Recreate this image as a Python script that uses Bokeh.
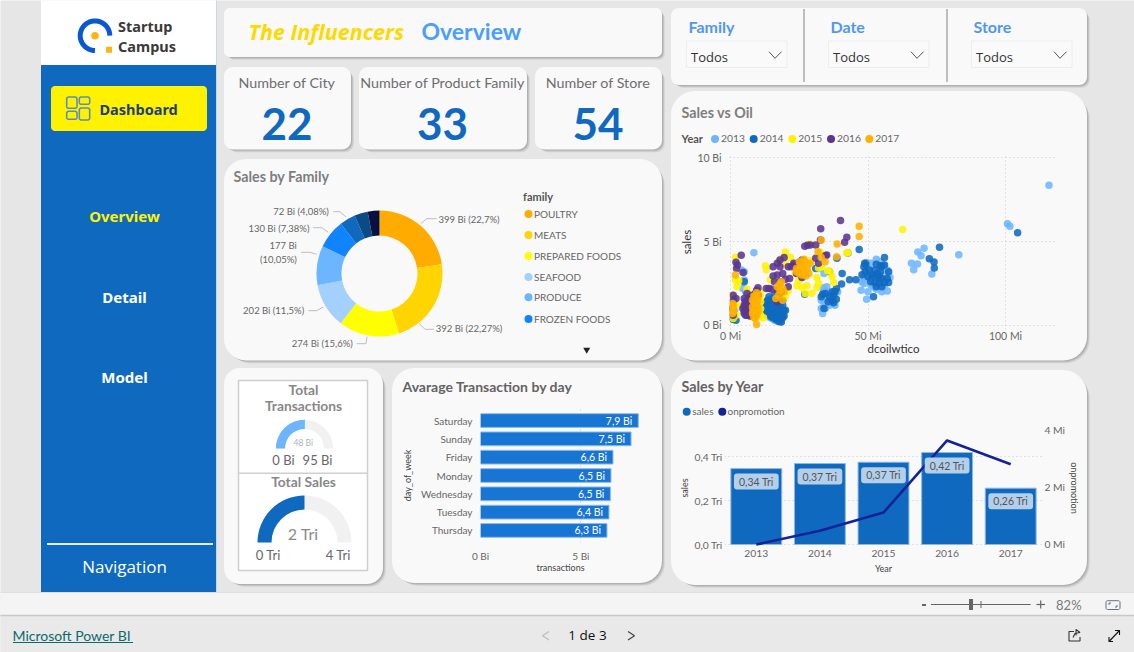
import math
from bokeh.embed import file_html
from bokeh.resources import INLINE
from bokeh.plotting import figure
from bokeh.models import Range1d, FactorRange, FixedTicker, LinearAxis
from bokeh.core.properties import value

# ---------- data ----------
kpi_titles = ["Number of City", "Number of Product Family", "Number of Store"]
kpi_values = ["22", "33", "54"]
slicer_titles = ["Family", "Date", "Store"]
family_names = ["POULTRY", "MEATS", "PREPARED FOODS", "SEAFOOD", "PRODUCE", "FROZEN FOODS", "DAIRY", "DELI", "OTHER"]
family_sales = [399, 392, 274, 202, 177, 130, 72, 60, 53]
family_colors = ["#FFAB00", "#FFD400", "#FFFF00", "#A3D0FF", "#6CB6FF", "#1084FF", "#0F69BF", "#0A4A85", "#07103F"]
days = ["Saturday", "Sunday", "Friday", "Monday", "Wednesday", "Tuesday", "Thursday"]
day_transactions = [7.86, 7.5, 6.6, 6.5, 6.47, 6.4, 6.3]
day_labels = ["7,9 Bi", "7,5 Bi", "6,6 Bi", "6,5 Bi", "6,5 Bi", "6,4 Bi", "6,3 Bi"]
years = ["2013", "2014", "2015", "2016", "2017"]
year_sales = [0.345, 0.368, 0.374, 0.418, 0.256]
year_sales_labels = ["0,34 Tri", "0,37 Tri", "0,37 Tri", "0,42 Tri", "0,26 Tri"]
year_promo = [0.0, 0.475, 1.11, 3.62, 2.79]
gauge_trans = (48, 95)
gauge_sales = (2, 4)

oil_2013 = [(115.8,8.36),(100.7,6.06),(101.6,5.92),(83,4.22),(70.4,4.6),(68.1,4.38),(69.3,4.16),(65.8,3.7),(68,3.66),(66.6,3.32),(73.2,3.06),(8.5,4.34),
 (47.5,2.1),(49.5,1.55),(50,2.0),(51,2.4),(48.5,2.5),(47.8,2.6),(50,2.8),(52,2.3),(53,2.15),(55,2.0),(57,2.05),(56,2.4),(58,2.85),(57,3.3),(55.5,3.6),(53,3.95),(51,3.7),(50,3.4),(49,3.2),(52,3.0),(54,2.7),(56,3.0),(54.5,3.8),(49.5,3.75),(48.5,2.9),
 (33.5,0.7),(33,1.0),(34,1.3),(33,1.5),(35,1.7),(34,2.0),(33.5,2.25),(35,2.0),(37,1.4),(38,1.2),(37.5,1.9),(36,1.6),(38.5,2.0),(39,2.0),(34.5,1.0),(36,1.2),(35,2.3),
 (0.5,0.5),(1,0.4),(1.5,0.9),(4,3.3),(5,3.2),(5,2.7),(4.5,2.2),(5.5,2.0),(5.2,1.4),(6,1.2),(7,0.9),(12,1.2),(12.5,0.8),(13,0.6),(14,0.5),(15,0.4),(16,0.3),(17,0.25),(18,0.2),(13,1.4),(14.5,1.5),(16,1.4),(18,1.3),(32,3.4),(34,3.1)]
oil_2014 = [(104.4,5.52),(76,4.66),(72.3,3.98),(74,3.78),(74.1,3.42),(46.8,4.52),(42.7,4.32),(38.7,4.0),(40.6,3.1),(40.4,2.46),(43.3,2.72),(45.6,2.72),(47.8,3.02),(52,1.7),
 (48.8,3.7),(49.2,3.65),(49,3.2),(50.5,3.3),(51.5,3.0),(50,2.9),(52.5,3.3),(53.5,3.1),(54.5,3.2),(55,3.5),(53,3.65),(54.5,3.55),(56,3.6),(56,4.05),(57.5,3.2),(57,2.8),(55,2.8),(54,2.5),(52.5,2.55),(51,2.6),(53,2.3),(55,2.3),(56,2.55),(57.5,2.55),(54,2.9),(52.5,2.9),(48.5,3.5),
 (33,1.7),(33.5,1.85),(34.5,1.9),(34,1.0),(35.5,1.4),(36,1.7),(37,1.5),(37.5,1.8),(37,2.0),(38,2.0),(38.5,2.2),(37.5,1.35),(38.5,1.55),(27,1.85),(31,3.4),(36,3.2),
 (13,1.0),(13,1.3),(13,0.8),(14,1.5),(14,1.2),(14,0.9),(14,0.65),(15,1.55),(15,1.25),(15,0.95),(15,0.7),(15,0.5),(16,1.6),(16,1.3),(16,1.0),(16,0.8),(16,0.6),(16,0.45),(17,1.5),(17,1.25),(17,1.0),(17,0.75),(17,0.55),(17,0.35),(18,1.5),(18,1.2),(18,0.95),(18,0.7),(18,0.5),(18,0.3),(19,1.2),(19,0.9),(19,0.65),(19,0.45),(12.5,1.1),(12.7,1.35),(13.5,1.5),(19.5,0.85),
 (12,1.0),(13.5,0.7),(14.5,0.55),(15.5,0.45),(16.5,0.35),(17.5,0.25),(18.5,0.2),(19.5,0.55),(20,0.9),(14,1.7),(16,1.8),(18,1.7),(19,1.5),
 (5,1.1),(5,0.7),(2,0.3),(1,0.35),(0.7,1.0),(6,0.6),(5,2.6)]
oil_2015 = [(62.6,5.72),(42.8,4.35),(20,4.38),(21.8,4.06),(28.8,4.86),(32.6,4.36),(12.7,3.56),(13,3.32),(1.8,4.06),(3,2.66),(1.8,2.7),(2.4,2.32),(6,2.16),(6.6,1.86),(14.5,2.72),(21,2.06),(20,1.76),(24.2,2.36),(26,2.26),(27.8,2.36),(27.2,1.9),(29.6,1.92),(31.4,2.26),(32,2.5),(31.4,2.86),(32,3.42),(35.3,3.26),(36.9,2.92),(37.5,2.56),(42.3,4.32),(26.6,3.66),(29,3.86),(23.6,3.16),(24.8,2.66),(20,3.66),(18.1,3.96),(36,3.25),(33,3.5),
 (1,0.4),(0.8,1.8),(2,0.6),(2.5,1.2),(8,0.5),(9,0.4),(10,0.5),(11,0.6),(11,1.0),(11,1.4),(11,1.8),(7,0.7),(7,1.2),(10.5,1.6),(10.5,2.0),(12,0.45)]
oil_2016 = [(40,6.26),(32.8,5.76),(42.3,5.26),(41.5,4.96),(32.7,5.1),(31,4.8),(29,4.8),(27,4.72),(28,4.78),(3.9,4.18),(2,3.76),(2.5,3.6),(2.2,3.4),(4.6,3.16),(35,4.2),(34.5,4.15),(18,3.9),(17,3.7),(19.5,4.05),(15.5,3.5),(18,3.5),(21,3.5),(23,3.7),(25,3.75),(26,3.9),(31,4.0),(32,3.7),(24,3.1),(23,3.6),(26,2.85),(20,2.75),(21.5,2.8),(15.5,2.95),(17,3.0),(19,3.1),(16,2.6),(18,2.6),(14,2.2),(13,2.2),(10,2.25),(9.5,2.1),(10,1.8),(15,2.15),(17,2.1),(21,2.3),(22,3.5),(24.5,3.2),
 (1,1.8),(1,1.5),(0.8,1.0),(1,0.6),(2,1.6),(5,1.2),(5.5,0.9),(6,0.7),(7,0.55),(5.5,1.4),(6.5,1.6),(8,1.8),(9,1.9),(7,1.3),(8,0.6),(8,1.1),(17,1.4),(18.5,2.0),
 (5,1.6),(6,1.2),(5,0.8),(6.5,1.0),(7.5,0.8),(4.5,1.0),(5.5,0.6),(7,1.7),(6,1.9)]
oil_2017 = [(46.8,5.92),(46.8,5.3),(33,5.1),(38.8,4.86),(31.8,4.4),(33,4.05),(38.6,4.1),(34.4,3.8),(26.7,3.95),(1.8,3.0),(9.5,0.05),
 (24,3.4),(25,3.1),(26,3.0),(27,3.2),(28,3.4),(29,3.7),(27,3.8),(25.5,3.6),(26.5,3.4),(28.5,3.1),(25,3.8),(24,3.2),(27.5,2.95),(26,3.7),
 (17,2.3),(18,2.1),(18.5,2.6),(19,2.2),(17.5,1.8),(16.5,1.6),(19,1.5),(18,2.5),(19.5,2.0),
 (8,0.7),(8.5,0.9),(9,1.1),(9.5,1.3),(10,1.5),(8,1.1),(8.5,1.4),(9,1.7),(9.5,1.95),(10,0.8),(10,1.1),(8.5,0.5),(9,0.4),(9.5,0.6),(8,1.5),(9,0.7),(10,1.8),(8.5,1.75),(9.5,0.85),(8.2,0.9),
 (0.8,0.7),(0.8,0.9),(0.8,1.1),(0.8,1.3),(1,0.8),(1,1.0),(1,1.2)]
oil_series = [oil_2013, oil_2014, oil_2015, oil_2016, oil_2017]
oil_colors = ["#6DB5FF", "#0F6ABF", "#FFF200", "#5B3591", "#FFB000"]

# ---------- helpers ----------
DIN = "Lato"
SEG = "Open Sans"
BLUE = "#0F6ABF"

bg = figure(width=1134, height=652, x_range=Range1d(0.5, 1134.5), y_range=Range1d(652.5, 0.5),
            x_axis_location=None, y_axis_location=None, toolbar_location=None,
            output_backend="svg", min_border=0, outline_line_color=None,
            background_fill_color="#E6E6E6", border_fill_color="#E6E6E6",
            styles={"position": "absolute", "left": "0px", "top": "0px"})
bg.grid.visible = False


def rr(x0, y0, x1, y1, r):
    xs, ys = [], []
    for cx, cy, a0 in [(x0 + r, y0 + r, 180), (x1 - r, y0 + r, 270), (x1 - r, y1 - r, 0), (x0 + r, y1 - r, 90)]:
        for k in range(9):
            a = math.radians(a0 + k * 90 / 8)
            xs.append(cx + r * math.cos(a))
            ys.append(cy + r * math.sin(a))
    return xs, ys


def box(x0, y0, x1, y1, fill, r=0, line=None, lw=1):
    xs, ys = rr(x0, y0, x1, y1, r) if r else ([x0, x1, x1, x0], [y0, y0, y1, y1])
    if fill is None:
        bg.patch(xs + xs[:1], ys + ys[:1], fill_alpha=0, line_color=line, line_width=lw)
    else:
        bg.patch(xs, ys, fill_color=fill, line_color=line, line_width=lw)


def card(x0, y0, x1, y1, r):
    for d, a in [(5, 0.05), (4, 0.07), (3, 0.09), (2, 0.10), (1, 0.10)]:
        xs, ys = rr(x0 + d, y0 + d, x1 + d * 0.6, y1 + d * 0.6, r)
        bg.patch(xs, ys, fill_color="#404040", fill_alpha=a, line_color=None)
    box(x0, y0, x1, y1, "#F9F9F9", r)


def txt(x, y, s, size, color="#666666", font=DIN, bold=False, align="left", italic=False, angle=0):
    st = "bold italic" if bold and italic else "bold" if bold else "italic" if italic else "normal"
    bg.text([x - 0.5], [y - 0.5], text=[s], text_font=value(font), text_font_size=f"{size}px", text_color=color,
            text_font_style=st, text_align=align, text_baseline="middle", angle=angle)


def ln(xs, ys, color="#999999", w=1, dash="solid", cap="butt"):
    bg.line(xs, ys, line_color=color, line_width=w, line_dash=dash, line_cap=cap)


def chart(fl, ft, fw, fh, ml, mt, mr, mb, **kw):
    return figure(width=fw + ml + mr, height=fh + mt + mb, min_border_left=ml, min_border_top=mt,
                  min_border_right=mr, min_border_bottom=mb, toolbar_location=None, output_backend="svg",
                  outline_line_color=None, background_fill_alpha=0, border_fill_alpha=0,
                  styles={"position": "absolute", "left": f"{fl - ml}px", "top": f"{ft - mt}px"}, **kw)


def style_axis(ax, size="10.5px", color="#666666"):
    ax.axis_line_color = None
    ax.major_tick_line_color = None
    ax.minor_tick_line_color = None
    ax.major_tick_out = 0
    ax.major_tick_in = 0
    ax.minor_tick_out = 0
    ax.minor_tick_in = 0
    ax.major_label_text_font = DIN
    ax.major_label_text_font_size = size
    ax.major_label_text_color = color
    ax.axis_label_text_font = DIN
    ax.axis_label_text_font_style = "normal"


def dotted(grid):
    grid.grid_line_color = "#C9C9C9"
    grid.grid_line_dash = "1 3"
    grid.grid_line_width = 1


# ---------- page frame ----------
box(41, -1, 216, 65, "#FFFFFF")
box(41, 65, 216, 592, BLUE)
ln([216.5, 216.5], [0, 592], "#C6D9EC", 1)
box(-1, 592, 1136, 615, "#F4F4F4")
ln([-1, 1136], [592.5, 592.5], "#DEDEDE", 1)
box(-1, 615, 1136, 654, "#E9E9E9")
ln([-1, 1136], [615.5, 615.5], "#C8C8C8", 1.5)

# logo
arc = [math.radians(a) for a in range(90, 361, 6)]
ln([95 + 14.8 * math.cos(a) for a in arc], [35.7 + 14.8 * math.sin(a) for a in arc][::1], "#0A57D2", 5)
bg.circle([95], [35.7], radius=3.8, fill_color="#FDB515", line_color=None)
box(106, 46.7, 112, 52.7, "#FDB515")
txt(118.5, 26.7, "Startup", 14.5, "#3A3A3A", "Noto Sans", True)
txt(118.5, 46, "Campus", 14.5, "#3A3A3A", "Noto Sans", True)

# navigation
box(51, 86, 207, 131, "#FFF200", 4)
for x0, y0, x1, y1 in [(66.7, 97, 77, 108.3), (79.3, 97, 89.7, 104.3), (66.7, 111.3, 77, 119.3), (79.3, 108, 89.7, 120)]:
    box(x0, y0, x1, y1, None, 2, "#5B8DBE", 1.6)
txt(100, 109, "Dashboard", 14.5, "#1E3E78", "Noto Sans", True)
txt(125, 216.5, "Overview", 15, "#FFF200", "Noto Sans", True, "center")
txt(125, 297, "Detail", 15, "#FFFFFF", "Noto Sans", True, "center")
txt(125, 377.5, "Model", 15, "#FFFFFF", "Noto Sans", True, "center")
ln([47, 213], [544, 544], "#E8EEF6", 2)
txt(125, 566.7, "Navigation", 17, "#FFFFFF", SEG, False, "center")

# cards
card(224, 8, 662, 57, 6)
card(671, 8, 1087, 85, 8)
kpi_boxes = [(224, 351), (359, 527), (535, 662)]
for (a, b), t, v in zip(kpi_boxes, kpi_titles, kpi_values):
    card(a, 67, b, 149.5, 9)
    txt((a + b) / 2, 82.5, t, 14.3, "#6E6E6E", DIN, False, "center")
    txt((a + b) / 2, 124.5, v, 44, "#1069BF", DIN, True, "center")
card(224, 159, 662, 360.5, 22)
card(671, 91, 1087, 360.5, 24)
card(224, 368, 383, 584, 16)
card(392, 368, 662, 583, 22)
card(671, 370, 1087, 585, 24)

# title
txt(249, 31.5, "The Influencers", 21.5, "#FFD800", "Open Sans", True, italic=True)
txt(422, 31.5, "Overview", 23, "#4A9EFF", "Lato", True)

# slicers
for xd in [804, 947]:
    ln([xd, xd], [9, 82], "#BDBDBD", 2)
for xl, t in zip([686.5, 828.5, 971.5], slicer_titles):
    txt(xl + 2.5, 27, t, 16, "#4F97F5", DIN, True)
    box(xl, 41, xl + 100.5, 67.5, "#FAFAFA", 0, "#EDEDED", 1)
    txt(xl + 5, 57.5, "Todos", 13, "#333333", SEG)
    ln([xl + 82.5, xl + 88.5, xl + 95], [51.7, 58.3, 51.7], "#555555", 1)

# card titles
txt(234, 176.5, "Sales by Family", 14.3, "#7E7E7E", DIN, True)
txt(682, 113, "Sales vs Oil", 14.3, "#7E7E7E", DIN, True)
txt(403, 386.5, "Avarage Transaction by day", 14, "#636363", DIN, True)
txt(682, 386.5, "Sales by Year", 14.3, "#636363", DIN, True)

# donut labels
for s, x, y, al in [("399 Bi (22,7%)", 439, 219.7, "left"), ("392 Bi (22,27%)", 436.3, 329.3, "left"),
                    ("274 Bi (15,6%)", 353.3, 343.7, "right"), ("202 Bi (11,5%)", 304.7, 310.7, "right"),
                    ("177 Bi", 297.3, 246.3, "right"), ("(10,05%)", 297.3, 259.7, "right"),
                    ("130 Bi (7,38%)", 310, 228.7, "right"), ("72 Bi (4,08%)", 329.3, 212.3, "right")]:
    txt(x, y, s, 9.5, "#666666", DIN, False, al)
for xs, ys in [([421, 426.7, 436.7], [223.3, 218.7, 218.7]), ([419, 425, 434], [323.3, 329.3, 329.3]),
               ([367, 366, 356.7], [336.7, 343.7, 343.7]), ([323.3, 316.7, 308.3], [307, 310.7, 310.7]),
               ([316.7, 310, 301], [254.3, 252.3, 252.3]), ([328.3, 321.7, 313.3], [232.3, 227.7, 227.7]),
               ([346, 340, 333.3], [217, 211.7, 211.7])]:
    ln(xs, ys, "#BDBDBD", 1)

# donut legend
txt(523.5, 197, "family", 11, "#555555", DIN, True)
for name, col, y in zip(family_names[:6], family_colors, [214, 235, 256, 277, 297.3, 319]):
    bg.scatter([528.5], [y], size=8, marker="circle", fill_color=col, line_color=None)
    txt(534.5, y, name, 10, "#666666", DIN)
bg.scatter([586.7], [349.7], size=7, marker="inverted_triangle", fill_color="#222222", line_color=None)

# scatter legend
txt(682, 139, "Year", 11, "#555555", DIN, True)
for yr, col, xm in zip(years, oil_colors, [715, 753.7, 792.3, 831, 869.3]):
    bg.scatter([xm], [139], size=8, marker="circle", fill_color=col, line_color=None)
    txt(xm + 6.5, 139, yr, 10.3, "#666666", DIN)

# combo legend
bg.scatter([686.7], [411.7], size=8, marker="circle", fill_color=BLUE, line_color=None)
txt(692.7, 411.7, "sales", 10, "#666666", DIN)
bg.scatter([722.3], [411.7], size=8, marker="circle", fill_color="#14229A", line_color=None)
txt(728, 411.7, "onpromotion", 10, "#666666", DIN)

# gauge panel
box(238.5, 380.5, 367.5, 570.5, "#FFFFFF", 0, "#CFCFCF", 1.5)
ln([238.5, 367.5], [473.3, 473.3], "#CFCFCF", 1.5)
txt(304, 389.5, "Total", 13.8, "#888888", DIN, True, "center")
txt(304, 405.7, "Transactions", 13.8, "#888888", DIN, True, "center")
txt(303.7, 443, "48 Bi", 8.5, "#AAB4C4", DIN, False, "center")
txt(284, 460.7, "0 Bi", 13, "#666666", DIN, False, "center")
txt(318, 460.7, "95 Bi", 13, "#666666", DIN, False, "center")
txt(304, 482.3, "Total Sales", 13.8, "#888888", DIN, True, "center")
txt(303.7, 534, "2 Tri", 16, "#8A8A8A", DIN, False, "center")
txt(268.7, 555.3, "0 Tri", 13, "#666666", DIN, False, "center")
txt(338.7, 555.3, "4 Tri", 13, "#666666", DIN, False, "center")

# footer
txt(13, 636, "Microsoft Power BI", 14, "#0B6A6A", DIN)
ln([13, 133], [642.5, 642.5], "#0B6A6A", 1)
txt(588, 635.5, "1 de 3", 13.5, "#111111", SEG, False, "center")
ln([549, 542.5, 549], [631.5, 635.7, 640], "#BBBBBB", 1.2)
ln([628, 634.5, 628], [631.5, 635.7, 640], "#444444", 1.2)
ln([922, 926], [605, 605], "#666666", 2)
ln([931, 1030.7], [604.5, 604.5], "#666666", 1)
box(969, 599, 973, 610, "#666666")
ln([981, 981], [601, 608], "#666666", 1)
ln([1036.5, 1045], [604.5, 604.5], "#666666", 1.2)
ln([1040.7, 1040.7], [600.5, 608.5], "#666666", 1.2)
txt(1069.3, 605, "82%", 13, "#7A7A7A", DIN, False, "center")
box(1106, 600.7, 1120, 609.5, None, 1.5, "#667080", 1)
ln([1109, 1109, 1111], [605, 603, 603], "#667080", 1)
ln([1117, 1117, 1115], [605, 607, 607], "#667080", 1)
ln([1074, 1069, 1069, 1080, 1080], [631.5, 631.5, 641, 641, 637], "#333333", 1.1)
ln([1073, 1075, 1080, 1076, 1076], [637.5, 633.5, 632.5, 629.5, 635.5], "#333333", 1.1)
ln([1109, 1119.5], [641.5, 630.5], "#111111", 1.1)
ln([1109, 1109, 1113], [637, 641.5, 641.5], "#111111", 1.1)
ln([1115, 1119.5, 1119.5], [630.5, 630.5, 635], "#111111", 1.1)

# ---------- donut ----------
R = 70
don = chart(379 - R, 273 - R, 2 * R, 2 * R, 0, 0, 0, 0, x_range=Range1d(-R, R), y_range=Range1d(-R, R),
            x_axis_location=None, y_axis_location=None)
don.grid.visible = False
total = sum(family_sales)
starts, ends, run = [], [], 0.0
for v in family_sales:
    starts.append(math.pi / 2 - 2 * math.pi * (run + v) / total)
    ends.append(math.pi / 2 - 2 * math.pi * run / total)
    run += v
don.annular_wedge(x=[0] * len(family_sales), y=[0] * len(family_sales), inner_radius=38, outer_radius=63,
                  start_angle=starts, end_angle=ends, fill_color=family_colors, line_color=None)

# ---------- gauges ----------
def gauge(cx, cy, rin, rout, val, maxv, col):
    H = rout + 1
    g = chart(round(cx - H), round(cy - H), 2 * round(H), round(H) + 1, 0, 0, 0, 0,
              x_range=Range1d(-round(H), round(H)), y_range=Range1d(-1, round(H)),
              x_axis_location=None, y_axis_location=None)
    g.grid.visible = False
    g.annular_wedge(x=[0, 0], y=[0, 0], inner_radius=rin, outer_radius=rout,
                    start_angle=[0, math.pi - math.pi * val / maxv],
                    end_angle=[math.pi, math.pi],
                    fill_color=["#F1F1F1", col], line_color=None)
    return g


g1 = gauge(304, 448, 19.5, 28.7, gauge_trans[0], gauge_trans[1], "#6DB5FF")
g2 = gauge(304, 542, 33, 47, gauge_sales[0], gauge_sales[1], BLUE)

# ---------- scatter ----------
sc = chart(729, 154, 328, 175, 55, 12, 4, 40, x_range=Range1d(-0.36, 118.9), y_range=Range1d(-0.25, 10.2))
for pts, col in zip(oil_series, oil_colors):
    sc.scatter([p[0] for p in pts], [p[1] for p in pts], size=7.5, marker="circle", fill_color=col,
               fill_alpha=0.88, line_color=None)
sc.xaxis.ticker = FixedTicker(ticks=[0, 50, 100])
sc.yaxis.ticker = FixedTicker(ticks=[0, 5, 10])
sc.xaxis.major_label_overrides = {0: "0 Mi", 50: "50 Mi", 100: "100 Mi"}
sc.yaxis.major_label_overrides = {0: "0 Bi", 5: "5 Bi", 10: "10 Bi"}
style_axis(sc.xaxis)
style_axis(sc.yaxis)
sc.xaxis.axis_label = "dcoilwtico"
sc.yaxis.axis_label = "sales"
sc.xaxis.axis_label_text_font_size = "11.5px"
sc.yaxis.axis_label_text_font_size = "11.5px"
sc.xaxis.axis_label_text_color = "#333333"
sc.yaxis.axis_label_text_color = "#333333"
sc.xaxis.axis_label_standoff = -3
sc.yaxis.axis_label_standoff = 1
sc.xaxis.major_label_standoff = 0
sc.yaxis.major_label_standoff = 8
dotted(sc.xgrid)
dotted(sc.ygrid)

# ---------- horizontal bars ----------
hb = chart(480, 408, 160, 134, 85, 4, 4, 42, x_range=Range1d(0, 7.97),
           y_range=FactorRange(factors=days[::-1], range_padding=0.045))
hb.hbar(y=days, right=day_transactions, left=0, height=0.75, fill_color="#1775D3", line_color="#8FBCEB", line_width=1)
hb.text(x=day_transactions, y=days, text=day_labels, x_offset=-6, text_align="right", text_baseline="middle",
        text_color="#FFFFFF", text_font=value(DIN), text_font_size="10.5px")
hb.xaxis.ticker = FixedTicker(ticks=[0, 5])
hb.xaxis.major_label_overrides = {0: "0 Bi", 5: "5 Bi"}
style_axis(hb.xaxis, "10px")
style_axis(hb.yaxis, "10px")
hb.xaxis.axis_label = "transactions"
hb.yaxis.axis_label = "day_of_week"
hb.xaxis.axis_label_text_font_size = "9px"
hb.yaxis.axis_label_text_font_size = "9px"
hb.xaxis.axis_label_text_color = "#444444"
hb.yaxis.axis_label_text_color = "#444444"
hb.xaxis.major_label_standoff = 7
hb.yaxis.major_label_standoff = 8
hb.xaxis.axis_label_standoff = -3
hb.yaxis.axis_label_standoff = 5
dotted(hb.xgrid)
hb.ygrid.visible = False

# ---------- combo ----------
cb = chart(724, 429, 318, 117, 50, 12, 45, 38, x_range=FactorRange(factors=years, range_padding=0),
           y_range=Range1d(-0.009, 0.5227))
cb.extra_y_ranges = {"promo": Range1d(-0.0696, 4)}
cb.vbar(x=years, top=year_sales, bottom=0, width=0.8, fill_color=BLUE, line_color="#8FB7E3", line_width=1)
cb.line(x=years, y=year_promo, y_range_name="promo", line_color="#14229A", line_width=2.6)
cb.text(x=years, y=year_sales, text=year_sales_labels, y_offset=13, text_align="center", text_baseline="middle",
        text_color="#555555", text_font=value(DIN), text_font_size="10.5px",
        background_fill_color="#B3CFEA", border_radius=3, padding=(5, 2))
cb.yaxis.ticker = FixedTicker(ticks=[0, 0.2, 0.4])
cb.yaxis.major_label_overrides = {0: "0,0 Tri", 0.2: "0,2 Tri", 0.4: "0,4 Tri"}
style_axis(cb.xaxis, "10.3px")
style_axis(cb.yaxis, "10.3px")
cb.xaxis.axis_label = "Year"
cb.yaxis.axis_label = "sales"
cb.xaxis.axis_label_text_font_size = "9px"
cb.yaxis.axis_label_text_font_size = "9px"
cb.xaxis.axis_label_text_color = "#444444"
cb.yaxis.axis_label_text_color = "#444444"
cb.xaxis.major_label_standoff = 3
cb.yaxis.major_label_standoff = 2
cb.xaxis.axis_label_standoff = 3
cb.yaxis.axis_label_standoff = 1
right = LinearAxis(y_range_name="promo", ticker=FixedTicker(ticks=[0, 2, 4]),
                   major_label_overrides={0: "0 Mi", 2: "2 Mi", 4: "4 Mi"}, axis_label="onpromotion")
style_axis(right, "10.3px")
right.axis_label_text_font_size = "9px"
right.axis_label_text_color = "#444444"
right.axis_label_orientation = "vertical"
right.major_label_standoff = 2
right.axis_label_standoff = 1
cb.add_layout(right, "right")
cb.xgrid.visible = False
dotted(cb.ygrid)

root = [bg, don, g1, g2, sc, hb, cb]
open("out.html", "w").write(file_html(root, INLINE))
